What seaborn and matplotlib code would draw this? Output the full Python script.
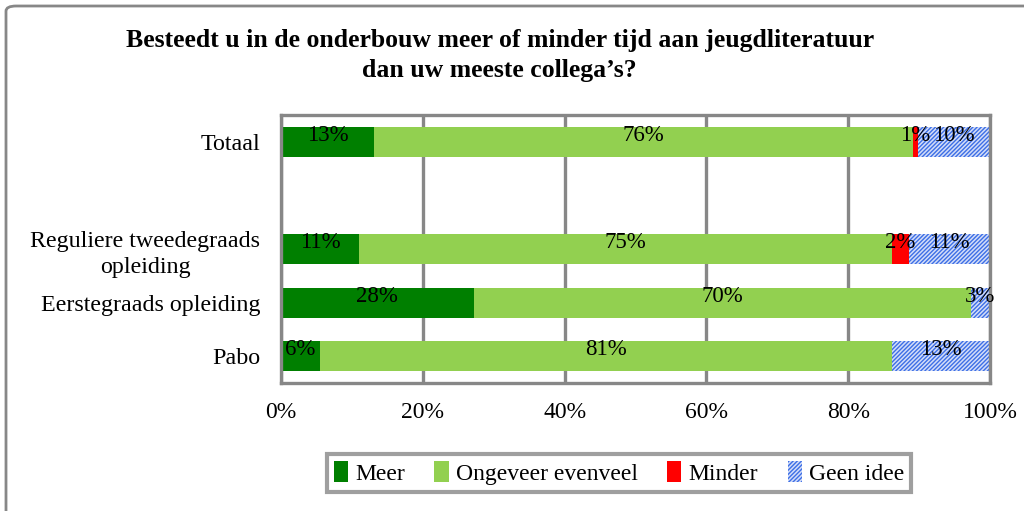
import pandas as pd
import seaborn as sns
import matplotlib.pyplot as plt
from matplotlib.patches import Patch, FancyBboxPatch

# data (percent)
categories = ["Totaal", "", "Reguliere tweedegraads\nopleiding", "Eerstegraads opleiding", "Pabo"]
series = ["Meer", "Ongeveer evenveel", "Minder", "Geen idee"]
meer = [13.1, 0, 11.0, 27.2, 5.5]
ongeveer = [76.0, 0, 75.2, 70.1, 80.7]
minder = [0.7, 0, 2.4, 0, 0]
geen_idee = [10.2, 0, 11.4, 2.7, 13.8]
labels_meer = ["13%", "", "11%", "28%", "6%"]
labels_ongeveer = ["76%", "", "75%", "70%", "81%"]
labels_minder = ["1%", "", "2%", "", ""]
labels_geen = ["10%", "", "11%", "3%", "13%"]
x_ticks = [0, 20, 40, 60, 80, 100]

sns.set_style("white")
plt.rcParams["font.family"] = ["Liberation Serif", "DejaVu Serif"]
plt.rcParams["hatch.linewidth"] = 1.0
plt.rcParams["text.color"] = "black"
plt.rcParams["xtick.color"] = "black"
plt.rcParams["ytick.color"] = "black"

df = pd.DataFrame({"cat": categories, "Meer": meer, "Ongeveer evenveel": ongeveer,
                   "Minder": minder, "Geen idee": geen_idee})
cum = df[series].cumsum(axis=1)

colors = {"Meer": "#007f00", "Ongeveer evenveel": "#92d050", "Minder": "#ff0000", "Geen idee": "#d3ddf8"}
hatch_col = "#3d6fe6"
grey = "#878787"

fig = plt.figure(figsize=(10.24, 5.11), dpi=100)
ax = fig.add_axes([281 / 1024, 1 - 383 / 511, 709 / 1024, 268 / 511])

# stacked bars: draw cumulative totals from the outside in
for s in reversed(series):
    kw = {}
    if s == "Geen idee":
        kw = dict(hatch="////////", edgecolor=hatch_col)
    sns.barplot(x=cum[s], y=df["cat"], order=categories, orient="h", color=colors[s],
                saturation=1, width=0.56, linewidth=0, ax=ax, **kw)

# data labels centred in each segment
all_labels = [labels_meer, labels_ongeveer, labels_minder, labels_geen]
for j, s in enumerate(series):
    for i in range(len(categories)):
        if df[s][i] <= 0:
            continue
        left = cum[s][i] - df[s][i]
        ax.text(left + df[s][i] / 2, i - 0.02, all_labels[j][i], ha="center", va="baseline",
                fontsize=16.5, color="black")

ax.set_xlim(0, 100)
ax.set_ylim(4.5, -0.5)
ax.set_xticks(x_ticks)
ax.set_xticklabels([f"{t}%" for t in x_ticks], fontsize=17)
ax.tick_params(axis="x", length=0, pad=14)
ax.tick_params(axis="y", length=0, pad=15, labelsize=17.3)
for lab in ax.get_yticklabels():
    lab.set_multialignment("center")
    lab.set_linespacing(1.35)
ax.set_xlabel("")
ax.set_ylabel("")
ax.set_axisbelow(True)
ax.xaxis.grid(True, color=grey, linewidth=2.4)
for sp in ax.spines.values():
    sp.set_visible(True)
    sp.set_color(grey)
    sp.set_linewidth(2.4)

fig.text(0.488, 1 - 29 / 511,
         "Besteedt u in de onderbouw meer of minder tijd aan jeugdliteratuur\ndan uw meeste collega\u2019s?",
         ha="center", va="top", fontsize=18.5, fontweight="bold", linespacing=1.38)

handles = [Patch(facecolor=colors[s], edgecolor=hatch_col if s == "Geen idee" else "none",
                 hatch="////////" if s == "Geen idee" else None, linewidth=0, label=s) for s in series]
leg = fig.legend(handles=handles, loc="center", bbox_to_anchor=(619 / 1024, 1 - 473 / 511), ncol=4,
                 fontsize=17, frameon=True, fancybox=False, handlelength=0.6, handleheight=1.0,
                 handletextpad=0.3, columnspacing=1.25, borderpad=0.3)
leg.get_frame().set_edgecolor(grey)
leg.get_frame().set_linewidth(3)

# outer chart border
fig.patches.append(FancyBboxPatch((6 / 1024, -0.05), 1.05, 1.04 - 6 / 511 + 0.01,
                                  boxstyle="round,pad=0,rounding_size=0.01",
                                  transform=fig.transFigure, facecolor="none",
                                  edgecolor=grey, linewidth=2, clip_on=False))

fig.savefig("out.png", dpi=100)
